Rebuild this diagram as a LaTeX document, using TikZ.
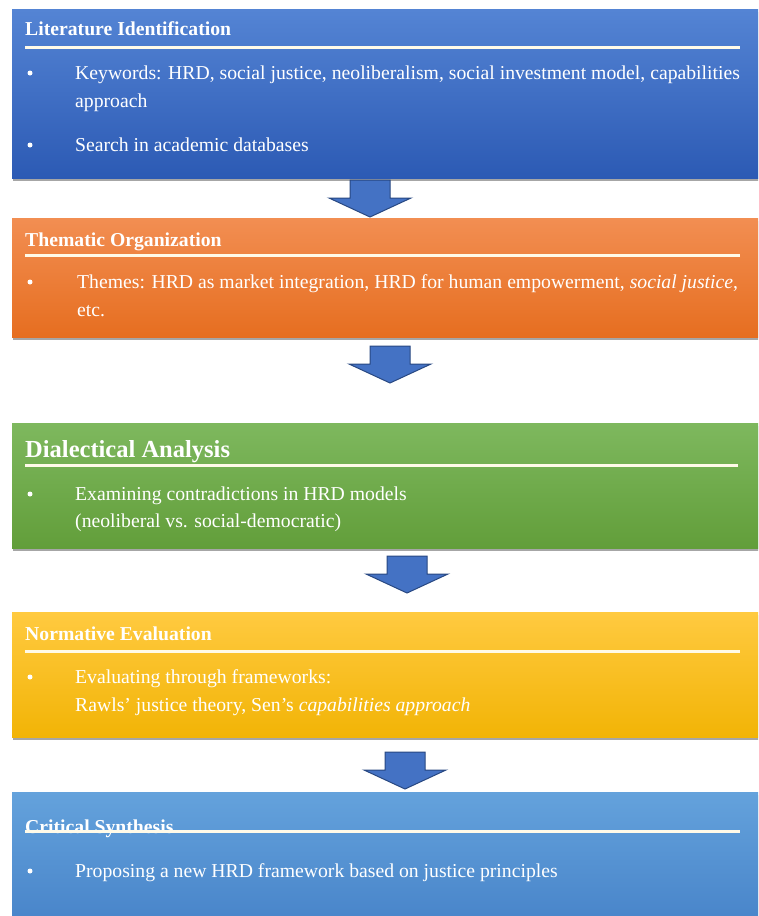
\documentclass[tikz,border=0pt]{standalone}
\usepackage{fontspec}
\setmainfont{Liberation Serif}
\usetikzlibrary{shadows}
\definecolor{bAt}{RGB}{84,132,212}
\definecolor{bAb}{RGB}{44,90,180}
\definecolor{bBt}{RGB}{242,142,82}
\definecolor{bBb}{RGB}{230,110,32}
\definecolor{bCt}{RGB}{126,184,94}
\definecolor{bCb}{RGB}{98,158,58}
\definecolor{bDt}{RGB}{255,202,64}
\definecolor{bDb}{RGB}{242,180,6}
\definecolor{bEt}{RGB}{100,162,220}
\definecolor{bEb}{RGB}{70,130,200}
\definecolor{arrowf}{RGB}{68,114,196}
\definecolor{arrowd}{RGB}{40,72,130}
\definecolor{rulec}{RGB}{255,250,232}
\tikzset{
  panel/.style={anchor=north west, inner sep=0pt, minimum width=770pt,
    drop shadow={shadow xshift=0.5pt, shadow yshift=-3pt, opacity=0.35, fill=black}},
  ttl/.style={anchor=base west, inner sep=0pt, text=white, font=\fontsize{19.7}{24}\selectfont\bfseries},
  bigttl/.style={anchor=base west, inner sep=0pt, text=white, font=\fontsize{24.5}{30}\selectfont\bfseries},
  txt/.style={anchor=base west, inner sep=0pt, text=white, font=\fontsize{19.7}{28}\selectfont},
  bul/.style={circle, fill=white, inner sep=0pt, minimum size=5pt, yshift=6pt},
  titlerule/.style={draw=rulec, line width=3pt},
  pics/blockarrow/.style={code={
    \draw[fill=arrowf, draw=arrowd, line width=1pt, line join=miter]
      (-20,-37) -- (-20,-19) -- (-41,-19) -- (0,0) -- (41,-19) -- (20,-19) -- (20,-37) -- cycle;}}
}
\begin{document}
\begin{tikzpicture}[x=1pt,y=-1pt]
\useasboundingbox (0,0) rectangle (758,916);
\fill[white] (0,0) rectangle (758,916);
\clip (0,0) rectangle (758,916);

% panels
\node[panel, top color=bAt, bottom color=bAb, minimum height=169pt] (b1) at (12,9) {};
\node[panel, top color=bBt, bottom color=bBb, minimum height=119pt] (b2) at (12,218) {};
\node[panel, top color=bCt, bottom color=bCb, minimum height=125pt] (b3) at (12,423) {};
\node[panel, top color=bDt, bottom color=bDb, minimum height=125pt] (b4) at (12,612) {};
\node[panel, top color=bEt, bottom color=bEb, minimum height=140pt] (b5) at (12,792) {};

% block arrows
\pic (a1) at (370,217) {blockarrow};
\pic (a2) at (390,383) {blockarrow};
\pic (a3) at (407,593) {blockarrow};
\pic (a4) at (405,789) {blockarrow};

% panel 1
\node[ttl] (t1) at (25,35) {Literature Identification};
\draw[titlerule] (25,47) -- (740,47);
\node[bul] (u1a) at (30,79) {};
\node[txt] (l1a) at (75,79) {Keywords: HRD, social justice, neoliberalism, social investment model, capabilities};
\node[txt] (l1b) at (75,107) {approach};
\node[bul] (u1b) at (30,151) {};
\node[txt] (l1c) at (75,151) {Search in academic databases};

% panel 2
\node[ttl] (t2) at (25,246) {Thematic Organization};
\draw[titlerule] (25,255) -- (740,255);
\node[bul] (u2a) at (30,288) {};
\node[txt] (l2a) at (77,288) {Themes: HRD as market integration, HRD for human empowerment, \textit{social justice},};
\node[txt] (l2b) at (77,316) {etc.};

% panel 3
\node[bigttl] (t3) at (25,457) {Dialectical Analysis};
\draw[titlerule] (25,465) -- (738,465);
\node[bul] (u3a) at (30,500) {};
\node[txt] (l3a) at (75,500) {Examining contradictions in HRD models};
\node[txt] (l3b) at (75,527) {(neoliberal vs. social-democratic)};

% panel 4
\node[ttl] (t4) at (25,640) {Normative Evaluation};
\draw[titlerule] (25,651) -- (740,651);
\node[bul] (u4a) at (30,683) {};
\node[txt] (l4a) at (75,683) {Evaluating through frameworks:};
\node[txt] (l4b) at (75,711) {Rawls’ justice theory, Sen’s \textit{capabilities approach}};

% panel 5
\node[ttl] (t5) at (25,833) {Critical Synthesis};
\draw[titlerule] (25,831) -- (740,831);
\node[bul] (u5a) at (30,877) {};
\node[txt] (l5a) at (75,877) {Proposing a new HRD framework based on justice principles};
\end{tikzpicture}
\end{document}
